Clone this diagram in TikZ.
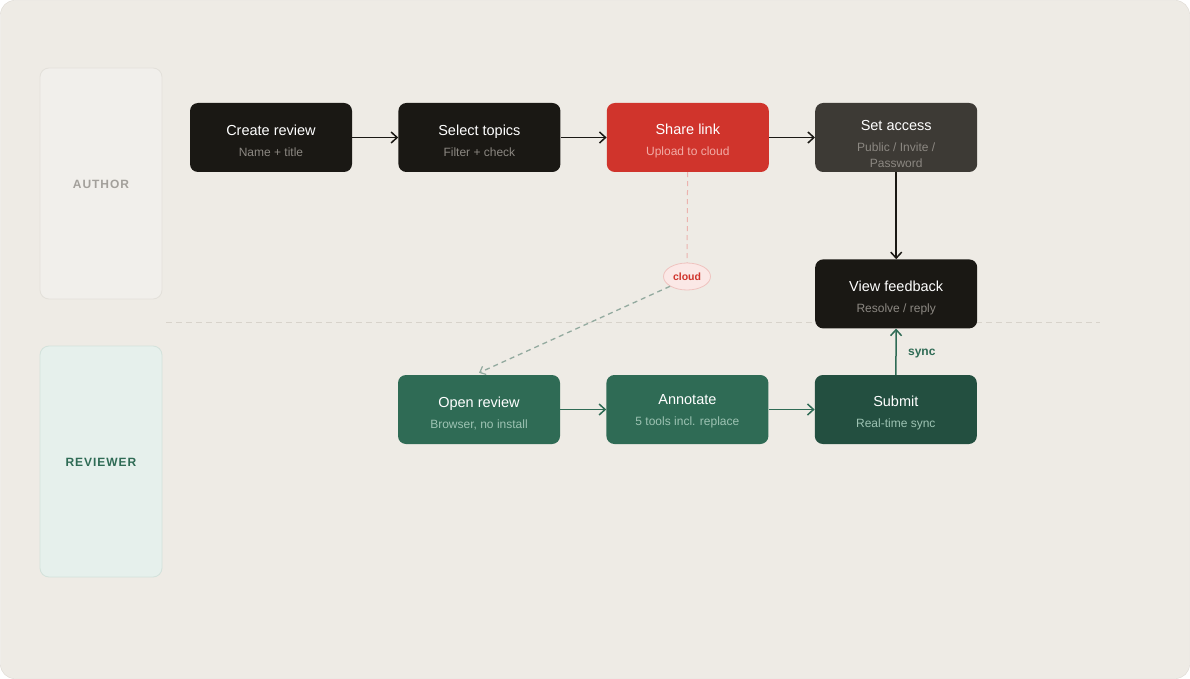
\documentclass[tikz,border=0pt]{standalone}
\usepackage{fontspec}
\setmainfont{Liberation Sans}
\usepackage{xcolor}
\usepackage{tikz}
\usetikzlibrary{calc,positioning,arrows.meta,shapes,backgrounds}

\definecolor{paper}{HTML}{EEEBE5}
\definecolor{paperline}{HTML}{DDD9D2}
\definecolor{inkblack}{HTML}{1A1814}
\definecolor{inkgray}{HTML}{3D3A35}
\definecolor{sharered}{HTML}{D0342C}
\definecolor{revgreen}{HTML}{2F6B55}
\definecolor{revdark}{HTML}{234F40}
\definecolor{subgray}{HTML}{8C8882}
\definecolor{subred}{HTML}{F2ABA5}
\definecolor{subgreen}{HTML}{9DC3B3}
\definecolor{cloudfill}{HTML}{FBE8E6}
\definecolor{cloudline}{HTML}{EFC3BF}
\definecolor{authorfill}{HTML}{F1EFEB}
\definecolor{authorline}{HTML}{E3E0DA}
\definecolor{reviewfill}{HTML}{E6F0EC}
\definecolor{reviewline}{HTML}{D3E2DB}
\definecolor{laneline}{HTML}{D8D3CB}
\definecolor{linkgreen}{HTML}{93AA9F}
\definecolor{linkred}{HTML}{EBB3AE}

\newcommand{\subline}[2]{{\fontsize{12}{16}\selectfont\color{#1}#2}}

\begin{document}
\begin{tikzpicture}[x=1pt, y=-1pt, align=center,
    stepbox/.style={rounded corners=8pt, minimum width=162pt, minimum height=69pt,
        text=white, font=\fontsize{14.5}{21}\selectfont},
    flow/.style={-{Straight Barb[length=6pt,width=11pt,line width=1.5pt]}, line width=1.5pt},
    lanebox/.style={rounded corners=9pt, line width=0.8pt},
    lanelabel/.style={font=\fontsize{12}{14}\selectfont\bfseries\addfontfeatures{LetterSpace=8}}]

    \useasboundingbox (0,0) rectangle (1190,679);
    \draw[rounded corners=14pt, fill=paper, draw=paperline] (0.5,0.5) rectangle (1189.5,678.5);

    % swim lanes
    \draw[lanebox, fill=authorfill, draw=authorline] (40,68) rectangle (162,299);
    \node[lanelabel, text=subgray!80] (authorlbl) at (101,184) {AUTHOR};
    \draw[lanebox, fill=reviewfill, draw=reviewline] (40,346) rectangle (162,577);
    \node[lanelabel, text=revgreen] (reviewerlbl) at (101,462) {REVIEWER};
    \draw[dash pattern=on 6pt off 4pt, draw=laneline, line width=0.8pt] (166,322) -- (1100,322);

    % author row
    \node [stepbox, fill=inkblack] (create) at (271,137.5) {\rule{0pt}{18pt}Create review\\\subline{subgray}{Name + title}};
    \node [stepbox, fill=inkblack, right=46pt of create] (topics) {\rule{0pt}{18pt}Select topics\\\subline{subgray}{Filter + check}};
    \node [stepbox, fill=sharered, right=46pt of topics] (share) {\rule{0pt}{18pt}Share link\\\subline{subred}{Upload to cloud}};
    \node [stepbox, fill=inkgray, right=46pt of share] (access) {\rule{0pt}{23pt}Set access\\\subline{subgray}{Public / Invite /}\\[-5pt]\subline{subgray}{Password}};
    \node [stepbox, fill=inkblack, below=87pt of access] (feedback) {\rule{0pt}{18pt}View feedback\\\subline{subgray}{Resolve / reply}};

    % reviewer row
    \node [stepbox, fill=revgreen] (open) at (479,409.5) {\rule{0pt}{18pt}Open review\\\subline{subgreen}{Browser, no install}};
    \node [stepbox, fill=revgreen, right=46pt of open] (annotate) {\rule{0pt}{14pt}Annotate\\\subline{subgreen}{5 tools incl. replace}};
    \node [stepbox, fill=revdark, right=46pt of annotate] (submit) {\rule{0pt}{18pt}Submit\\\subline{subgreen}{Real-time sync}};

    \node [ellipse, fill=cloudfill, draw=cloudline, line width=0.8pt, inner sep=0pt,
        minimum width=47pt, minimum height=27pt, text=sharered,
        font=\fontsize{10.5}{12}\selectfont\bfseries] (cloud) at (687,276.5) {cloud};

    \draw[flow, draw=inkblack] (create) -- (topics);
    \draw[flow, draw=inkblack] (topics) -- (share);
    \draw[flow, draw=inkblack] (share) -- (access);
    \draw[flow, draw=inkblack] (access) -- (feedback);
    \draw[flow, draw=revgreen] (open) -- (annotate);
    \draw[flow, draw=revgreen] (annotate) -- (submit);
    \draw[flow, draw=revgreen] (submit) -- node[right, xshift=8pt, yshift=-2pt, text=revgreen, font=\fontsize{12}{14}\selectfont\bfseries] {sync} (feedback);

    \draw[dash pattern=on 5pt off 4pt, draw=linkred, line width=1pt] (share) -- (cloud);
    \draw[-{Straight Barb[length=5pt,width=9pt,line width=1.2pt]}, dash pattern=on 5pt off 4pt, draw=linkgreen, line width=1.3pt]
        (cloud.-150) -- ($(open.north)+(0,-2)$);

\end{tikzpicture}
\end{document}
